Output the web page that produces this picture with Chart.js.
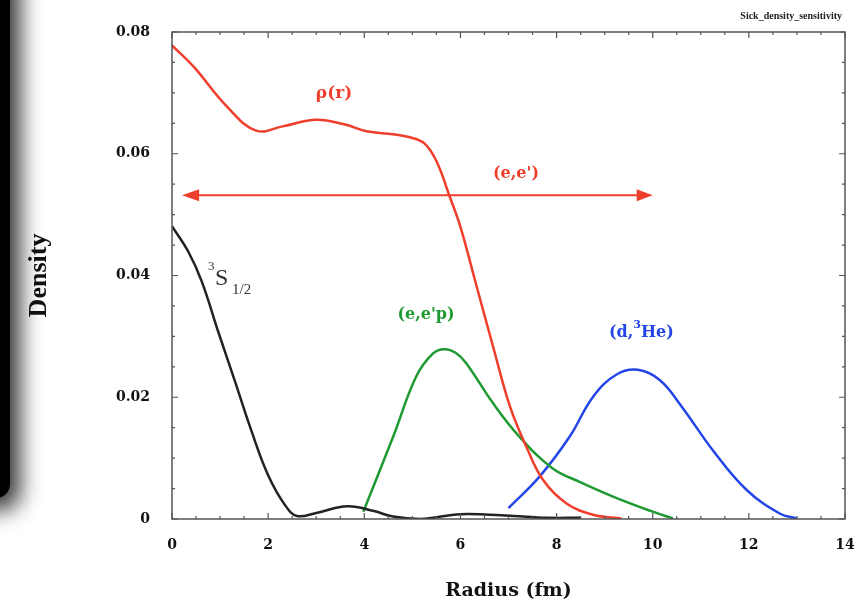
<!DOCTYPE html>
<html>
<head>
<meta charset="utf-8">
<script src="https://cdn.jsdelivr.net/npm/chart.js@4/dist/chart.umd.min.js"></script>
<style>
  body { margin: 0; background: #fff; overflow: hidden; }
  #wrap { position: relative; width: 867px; height: 608px; }
  #edge { position: absolute; left: -30px; top: -30px; width: 40px; height: 528px;
          background: #000; border-radius: 14px; box-shadow: 6px 8px 22px 4px rgba(0,0,0,0.8); z-index: 2; }
</style>
</head>
<body>
<div id="wrap">
  <div id="edge"></div>
  <canvas id="mycanvas" width="867" height="608"></canvas>
</div>
<script>
// tick labels
var xTickLabels = ["0", "2", "4", "6", "8", "10", "12", "14"];
var yTickLabels = ["0", "0.02", "0.04", "0.06", "0.08"];

// rho(r) charge density
var rhoX = [0, 0.45, 1.15, 1.75, 2.3, 3.0, 3.6, 4.05, 4.6, 4.95, 5.25, 5.5, 5.78, 6.0, 6.3, 6.68, 7.03, 7.37, 7.72, 8.2, 8.76, 9.35];
var rhoY = [0.0778, 0.0743, 0.0677, 0.0638, 0.0645, 0.0656, 0.0648, 0.0637, 0.0632, 0.0627, 0.0617, 0.0588, 0.0529, 0.0480, 0.0393, 0.0283, 0.0185, 0.0119, 0.0064, 0.0026, 0.0007, 0.0001];

// 3S1/2 orbital
var s12X = [0, 0.34, 0.62, 0.96, 1.31, 1.66, 2.0, 2.35, 2.6, 3.0, 3.65, 4.2, 4.6, 5.15, 6.0, 6.6, 7.1, 7.8, 8.5];
var s12Y = [0.0481, 0.0439, 0.0390, 0.0308, 0.0226, 0.0143, 0.0072, 0.0023, 0.0005, 0.0010, 0.0021, 0.0013, 0.0004, 0.0000, 0.0008, 0.0007, 0.0005, 0.0002, 0.0002];

// (e,e'p)
var eepX = [3.98, 4.6, 5.08, 5.43, 5.67, 5.9, 6.12, 6.68, 7.23, 7.92, 8.48, 9.2, 10.0, 10.42];
var eepY = [0.0012, 0.0135, 0.0234, 0.0272, 0.0279, 0.0273, 0.0256, 0.0190, 0.0135, 0.0083, 0.0061, 0.0036, 0.0012, 0.0001];

// (d,3He)
var dheX = [7.0, 7.65, 8.27, 8.76, 9.24, 9.69, 10.15, 10.6, 11.25, 11.95, 12.64, 13.0];
var dheY = [0.0018, 0.0070, 0.0135, 0.0201, 0.0237, 0.0245, 0.0228, 0.0185, 0.0113, 0.0048, 0.0009, 0.0001];

// (e,e') range arrow
var arrowX = [0.21, 10.0];
var arrowY = 0.0532;

function pts(xs, ys) {
  var out = [];
  for (var i in xs) out.push({x: xs[i], y: ys[i]});
  return out;
}

var RED = '#ef3e2c', GREEN = '#1f9932', BLUE = '#2446e6', BLACK = '#222222';

function line(label, xs, ys, color) {
  return {
    label: label, data: pts(xs, ys), showLine: true, borderColor: color,
    backgroundColor: color, borderWidth: 2.5, pointRadius: 0, fill: false,
    tension: 0.4
  };
}

var decor = {
  id: 'decor',
  afterDatasetsDraw: function(chart) {
    var ctx = chart.ctx, xs = chart.scales.x, ys = chart.scales.y, a = chart.chartArea;
    ctx.save();
    // frame
    ctx.strokeStyle = '#555';
    ctx.lineWidth = 1.5;
    ctx.strokeRect(a.left, a.top, a.right - a.left, a.bottom - a.top);
    // inner ticks on all four sides
    ctx.lineWidth = 1.2;
    ctx.beginPath();
    for (var v = 0; v <= 14.001; v += 0.5) {
      var px = xs.getPixelForValue(v);
      var len = (Math.abs(v / 2 - Math.round(v / 2)) < 1e-6) ? 6 : 3;
      ctx.moveTo(px, a.bottom); ctx.lineTo(px, a.bottom - len);
      ctx.moveTo(px, a.top); ctx.lineTo(px, a.top + len);
    }
    for (var w = 0; w <= 0.08001; w += 0.005) {
      var py = ys.getPixelForValue(w);
      var len2 = (Math.abs(w / 0.02 - Math.round(w / 0.02)) < 1e-6) ? 6 : 3;
      ctx.moveTo(a.left, py); ctx.lineTo(a.left + len2, py);
      ctx.moveTo(a.right, py); ctx.lineTo(a.right - len2, py);
    }
    ctx.stroke();

    // arrow
    var x1 = xs.getPixelForValue(arrowX[0]), x2 = xs.getPixelForValue(arrowX[1]);
    var ay = ys.getPixelForValue(arrowY);
    ctx.strokeStyle = RED; ctx.fillStyle = RED; ctx.lineWidth = 2;
    ctx.beginPath(); ctx.moveTo(x1 + 10, ay); ctx.lineTo(x2 - 10, ay); ctx.stroke();
    ctx.beginPath(); ctx.moveTo(x1, ay); ctx.lineTo(x1 + 17, ay - 6); ctx.lineTo(x1 + 17, ay + 6); ctx.closePath(); ctx.fill();
    ctx.beginPath(); ctx.moveTo(x2, ay); ctx.lineTo(x2 - 16, ay - 6); ctx.lineTo(x2 - 16, ay + 6); ctx.closePath(); ctx.fill();

    // labels
    ctx.textBaseline = 'middle';
    ctx.textAlign = 'center';
    ctx.font = 'bold 17px "DejaVu Serif"';
    ctx.fillStyle = RED;
    ctx.fillText('\u03c1(r)', 334, 94);
    ctx.font = 'bold 16px "DejaVu Serif"';
    ctx.fillText("(e,e')", 516, 174);
    ctx.fillStyle = GREEN;
    ctx.fillText("(e,e'p)", 426, 315);

    // (d,3He)
    ctx.fillStyle = BLUE;
    ctx.textAlign = 'left';
    ctx.font = 'bold 16px "DejaVu Serif"';
    var t1 = '(d,';
    var sx = 609;
    ctx.fillText(t1, sx, 333);
    sx += ctx.measureText(t1).width;
    ctx.font = 'bold 11px "DejaVu Serif"';
    ctx.fillText('3', sx, 325);
    sx += ctx.measureText('3').width;
    ctx.font = 'bold 16px "DejaVu Serif"';
    ctx.fillText('He)', sx, 333);

    // 3S1/2
    ctx.fillStyle = '#333';
    ctx.font = '13px "Liberation Serif"';
    ctx.fillText('3', 208, 267);
    ctx.font = '24px "Liberation Serif"';
    ctx.fillText('S', 215, 279);
    ctx.font = '15px "Liberation Serif"';
    ctx.fillText('1/2', 232, 290);

    // corner title
    ctx.fillStyle = '#222';
    ctx.textAlign = 'right';
    ctx.font = 'bold 10px "Liberation Serif"';
    ctx.fillText('Sick_density_sensitivity', 842, 16);
    ctx.restore();
  }
};

var chartdata = {
  datasets: [
    line('rho(r)', rhoX, rhoY, RED),
    line('3S1/2', s12X, s12Y, BLACK),
    line("(e,e'p)", eepX, eepY, GREEN),
    line('(d,3He)', dheX, dheY, BLUE)
  ]
};

var ctx = document.getElementById('mycanvas');

var myChart = new Chart(ctx, {
  type: 'scatter',
  data: chartdata,
  plugins: [decor],
  options: {
    responsive: false,
    animation: false,
    layout: { padding: { top: 32, right: 22, left: 0, bottom: 0 } },
    plugins: { legend: { display: false }, tooltip: { enabled: false } },
    scales: {
      x: {
        type: 'linear', min: 0, max: 14,
        grid: { display: false, drawTicks: false },
        border: { display: false },
        afterFit: function(s) { s.height = 89; s.paddingRight = 0; s.paddingLeft = 0; },
        ticks: {
          stepSize: 2, padding: 18, color: '#111',
          font: { family: 'DejaVu Serif', weight: 'bold', size: 14 },
          callback: function(v) { return xTickLabels[Math.round(v / 2)]; }
        },
        title: {
          display: true, text: 'Radius (fm)', color: '#111',
          font: { family: 'DejaVu Serif', weight: 'bold', size: 19 },
          padding: { top: 0, bottom: 6 }
        }
      },
      y: {
        type: 'linear', min: 0, max: 0.08,
        grid: { display: false, drawTicks: false },
        border: { display: false },
        afterFit: function(s) { s.width = 172; s.paddingTop = 0; s.paddingBottom = 0; },
        ticks: {
          stepSize: 0.02, padding: 22, color: '#111',
          font: { family: 'DejaVu Serif', weight: 'bold', size: 14 },
          callback: function(v) { return yTickLabels[Math.round(v / 0.02)]; }
        },
        title: {
          display: true, text: 'Density', color: '#111',
          font: { family: 'Liberation Serif', weight: 'bold', size: 26 },
          padding: { top: 24, bottom: 0 }
        }
      }
    }
  }
});
</script>
</body>
</html>
